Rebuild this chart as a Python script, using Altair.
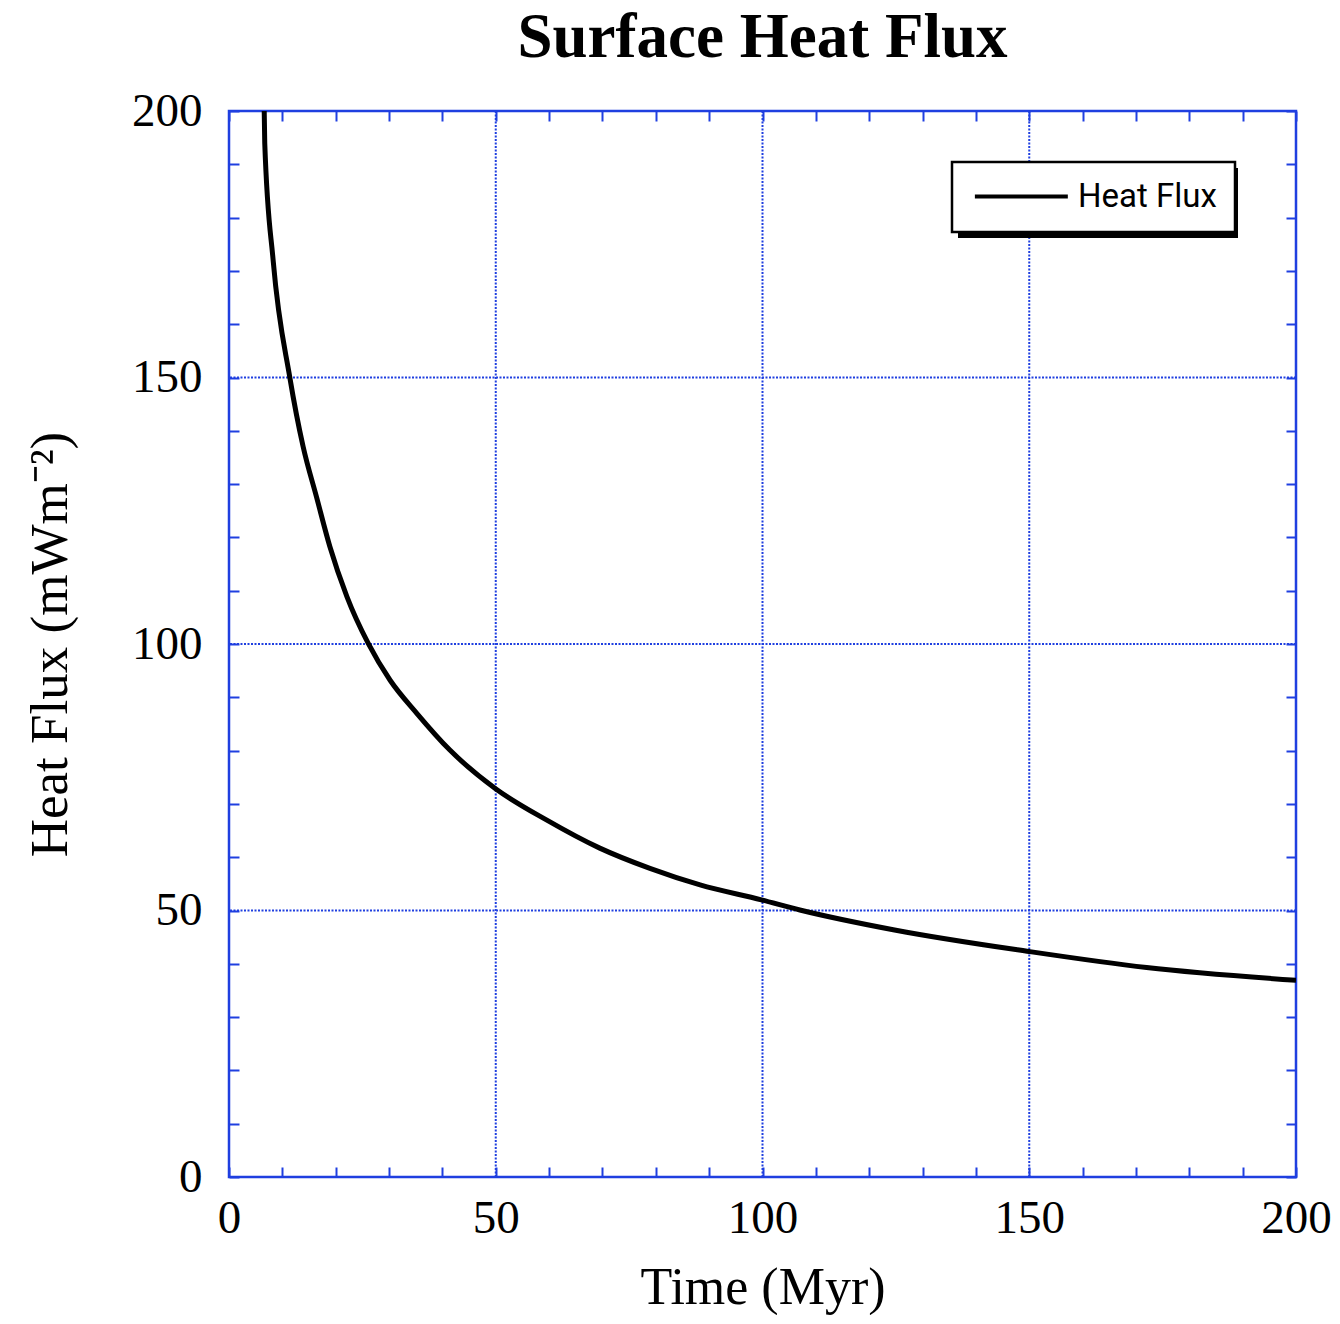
import altair as alt
import pandas as pd

# ---- data ----
time_myr = [6.6, 6.7, 8.3, 11.4, 13.9, 16.4, 18.9, 22.1, 26.1, 30.2, 35.2, 41.4,
            49.9, 59.5, 69.5, 78.9, 88.3, 99.8, 107.0, 125.0, 150.0, 172.0, 200.0]
heat_flux = [200.0, 194.0, 171.7, 150.0, 137.0, 127.6, 118.3, 108.9, 100.1, 93.2, 87.0, 80.1,
             72.9, 67.0, 61.7, 57.9, 54.8, 52.0, 50.1, 46.3, 42.3, 39.3, 36.9]
series_name = ["Heat Flux"]
grid_values = [50, 100, 150]
tick_values = list(range(0, 201, 10))

BLUE = "#1f3fe0"
SERIF = "Liberation Serif"

df = pd.DataFrame({"t": time_myr, "q": heat_flux, "series": series_name * len(time_myr)})
grid_df = pd.DataFrame({"g": grid_values})

xs = alt.Scale(domain=[0, 200], nice=False, zero=False)
ys = alt.Scale(domain=[0, 200], nice=False, zero=False)

label_expr = "datum.value % 50 === 0 ? datum.label : ''"
TL = 10  # inward tick length

common = dict(values=tick_values, offset=-TL, tickSize=TL, tickColor=BLUE, tickWidth=2,
              domain=False, grid=False, labelOverlap=False, labelFlush=False)

bottom_axis = alt.Axis(orient="bottom", labelExpr=label_expr, labelFont=SERIF, labelFontSize=47,
                       labelColor="black", labelPadding=18, title="Time (Myr)", titleFont=SERIF,
                       titleFontSize=52, titleFontWeight="normal", titleColor="black",
                       titlePadding=21, **common)
left_axis = alt.Axis(orient="left", labelExpr=label_expr, labelFont=SERIF, labelFontSize=47,
                     labelColor="black", labelPadding=27, title="Heat Flux (mWm⁻²)",
                     titleFont=SERIF, titleFontSize=53, titleFontWeight="normal",
                     titleColor="black", titlePadding=54, **common)
top_axis = alt.Axis(orient="top", labels=False, title=None, **common)
right_axis = alt.Axis(orient="right", labels=False, title=None, **common)

vgrid = alt.Chart(grid_df).mark_rule(color=BLUE, strokeWidth=2, strokeDash=[2, 1.5]).encode(
    x=alt.X("g:Q", scale=xs, axis=None))
hgrid = alt.Chart(grid_df).mark_rule(color=BLUE, strokeWidth=2, strokeDash=[2, 1.5]).encode(
    y=alt.Y("g:Q", scale=ys, axis=None))

shadow = alt.Chart(pd.DataFrame({"k": [0]})).mark_rect(color="black").encode(
    x=alt.value(729), x2=alt.value(1009), y=alt.value(57), y2=alt.value(127))

line = alt.Chart(df).mark_line(strokeWidth=5, interpolate="monotone", clip=True).encode(
    x=alt.X("t:Q", scale=xs, axis=bottom_axis),
    y=alt.Y("q:Q", scale=ys, axis=left_axis),
    color=alt.Color("series:N", scale=alt.Scale(range=["black"]),
                    legend=alt.Legend(title=None, orient="none", legendX=723, legendY=51,
                                      symbolType="M-1,0H7", symbolSize=540, symbolStrokeWidth=4,
                                      labelFont="Roboto", labelFontSize=33, labelColor="black",
                                      labelOffset=75, padding=18, strokeColor="black",
                                      fillColor="white")),
)

frame = alt.Chart(df).mark_line(opacity=0).encode(
    x=alt.X("t:Q", scale=xs, axis=top_axis),
    y=alt.Y("q:Q", scale=ys, axis=right_axis),
)

chart = alt.layer(vgrid, hgrid, shadow, line, frame).resolve_axis(
    x="independent", y="independent"
).properties(
    width=1067, height=1066,
    title=alt.TitleParams("Surface Heat Flux", font=SERIF, fontSize=63, fontWeight="bold",
                          color="black", anchor="middle", offset=17),
    autosize=alt.AutoSizeParams(type="none"),
    padding={"left": 221, "top": 103, "right": 36, "bottom": 138},
).configure_view(stroke=BLUE, strokeWidth=2.5).configure_legend(strokeWidth=2.5)

chart.save("out.html", embed_options={"renderer": "svg", "actions": False})
